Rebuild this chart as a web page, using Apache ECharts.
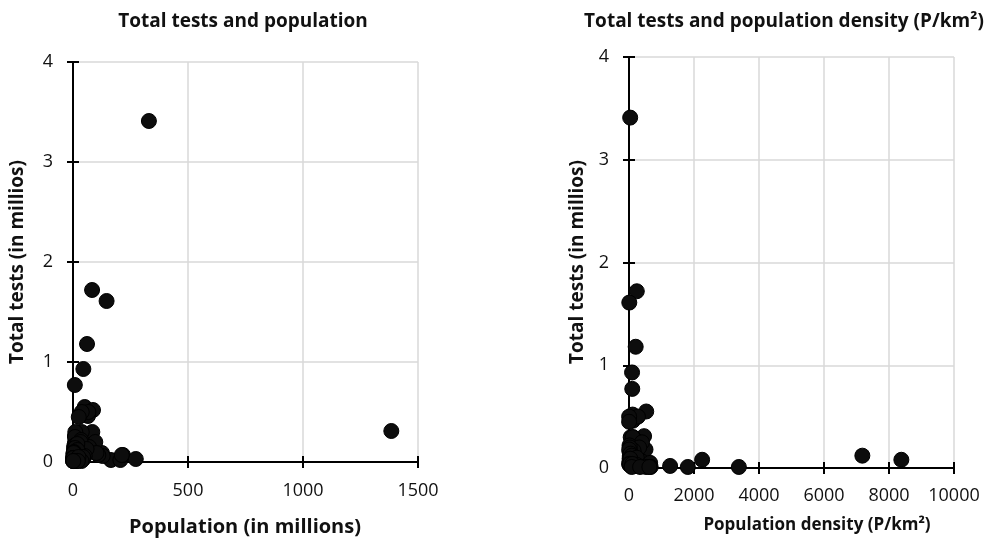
<!DOCTYPE html>
<html>
<head>
<meta charset="utf-8">
<script src="https://cdn.jsdelivr.net/npm/echarts@6/dist/echarts.min.js"></script>
<style>
html,body{margin:0;padding:0;background:#fff;}
#chart{width:995px;height:543px;}
</style>
</head>
<body>
<div id="chart"></div>
<script>
// ---- Data ----
const countries = ["United States","Germany","Russia","Italy","Spain","United Arab Emirates","India","South Korea","Turkey","Hong Kong","Singapore","Bahrain","Maldives","Malta","Bangladesh","Nigeria","Pakistan","Indonesia","Brazil","Japan","France","United Kingdom","Canada","Australia","Iran","Poland","Switzerland","Portugal","Belgium","Netherlands","Austria","Israel","Saudi Arabia","Mexico","Philippines","Vietnam","Thailand","Egypt","Malaysia","Sweden","Norway","Denmark","Ireland","Czechia","Chile","Peru","South Africa","Qatar","Kazakhstan","Belarus","Colombia","Argentina","Ecuador","Romania","Ukraine","Greece","Finland","Serbia","Kuwait","New Zealand","Lithuania","Iceland","Luxembourg","Estonia","Slovenia","Morocco","Taiwan","Lebanon","Rwanda","Sri Lanka","Mauritius"];
const populationM = [330,83,146,61,45,8,1384,51,87,7.5,5.8,1.7,0.5,0.4,165,206,217,273,212,126,65,67,38,25,84,38,8.6,10,11.5,17,9,9,35,129,110,97,70,102,32,10,5.4,5.8,5,10.7,19,33,59,2.9,18.8,9.4,51,45,17.6,19,44,10.4,5.5,8.7,4.3,4.8,2.7,0.34,0.63,1.3,2.1,37,23.8,6.8,13,21,1.3];
const densityPerKm2 = [36,240,9,206,94,100,464,530,110,7180,8380,2250,3380,1810,1265,226,287,151,25,347,119,275,4,3,52,124,219,111,383,508,109,400,16,66,368,314,137,103,99,25,15,137,72,139,26,26,49,248,7,47,46,17,71,84,75,81,18,100,240,18,43,3,242,31,103,83,650,667,525,341,626];
const testsM = [3.41,1.72,1.61,1.18,0.93,0.77,0.31,0.55,0.52,0.12,0.08,0.08,0.01,0.01,0.02,0.02,0.07,0.03,0.07,0.09,0.46,0.50,0.50,0.45,0.30,0.30,0.26,0.30,0.17,0.18,0.20,0.25,0.22,0.06,0.07,0.20,0.15,0.09,0.12,0.11,0.16,0.14,0.13,0.17,0.12,0.20,0.13,0.07,0.18,0.14,0.06,0.03,0.03,0.12,0.05,0.05,0.06,0.05,0.10,0.09,0.09,0.04,0.03,0.04,0.04,0.01,0.05,0.01,0.01,0.01,0.01];

const leftTitle = "Total tests and population";
const rightTitle = "Total tests and population density (P/km²)";
const yName = "Total tests (in millios)";
const leftXName = "Population (in millions)";
const rightXName = "Population density (P/km²)";

const FONT = "Open Sans";
const chart = echarts.init(document.getElementById('chart'), null, {renderer:'canvas'});
const plain = v => String(v);

function xAxes(gridIndex, max, interval, margin) {
  const base = {
    gridIndex, type:'value', position:'bottom', min:0, max, interval,
    axisLine:{show:true, onZero:false, lineStyle:{color:'#000', width:2}},
  };
  return [
    Object.assign({}, base, {
      axisTick:{show:true, inside:false, length:6, lineStyle:{color:'#000', width:2}},
      axisLabel:{show:true, margin, color:'#111', fontFamily:FONT, fontSize:18, formatter:plain},
      splitLine:{show:true, lineStyle:{color:'#d9d9d9', width:1.5}}
    }),
    Object.assign({}, base, {
      axisLine:{show:false},
      axisTick:{show:true, inside:true, length:6, lineStyle:{color:'#000', width:2}},
      axisLabel:{show:false}, splitLine:{show:false}
    })
  ];
}
function yAxes(gridIndex) {
  const base = {
    gridIndex, type:'value', position:'left', min:0, max:4, interval:1,
    axisLine:{show:true, onZero:false, lineStyle:{color:'#000', width:2}},
  };
  return [
    Object.assign({}, base, {
      axisTick:{show:true, inside:false, length:6, lineStyle:{color:'#000', width:2}},
      axisLabel:{show:true, margin:20, color:'#111', fontFamily:FONT, fontSize:18, formatter:plain},
      splitLine:{show:true, lineStyle:{color:'#d9d9d9', width:1.5}}
    }),
    Object.assign({}, base, {
      axisLine:{show:false},
      axisTick:{show:true, inside:true, length:6, lineStyle:{color:'#000', width:2}},
      axisLabel:{show:false}, splitLine:{show:false}
    })
  ];
}

const popData = countries.map((c,i)=>({name:c, value:[populationM[i], testsM[i]]}));
const denData = countries.map((c,i)=>({name:c, value:[densityPerKm2[i], testsM[i]]}));

const marker = {color:'#0d0d0d', borderColor:'#000', borderWidth:1, opacity:1};
const titleStyle = {fontFamily:FONT, fontWeight:'bold', fontSize:19, color:'#111'};
const font = s => 'bold ' + s + 'px "' + FONT + '"';

chart.setOption({
  animation:false,
  backgroundColor:'#fff',
  title:[
    {text:leftTitle, left:238, top:7, textAlign:'center', textStyle:titleStyle},
    {text:rightTitle, left:779, top:7, textAlign:'center', textStyle:titleStyle}
  ],
  grid:[
    {left:73, top:62, width:345, height:400},
    {left:629, top:57, width:325, height:411}
  ],
  xAxis:[].concat(xAxes(0,1500,500,20), xAxes(1,10000,2000,19)),
  yAxis:[].concat(yAxes(0), yAxes(1)),
  graphic:[
    {type:'text', x:18, y:262, rotation:Math.PI/2, style:{text:yName, x:0, y:0, textAlign:'center', textVerticalAlign:'middle', font:font(19), fill:'#111'}},
    {type:'text', x:578, y:262, rotation:Math.PI/2, style:{text:yName, x:0, y:0, textAlign:'center', textVerticalAlign:'middle', font:font(19), fill:'#111'}},
    {type:'text', x:245, y:527, style:{text:leftXName, x:0, y:0, textAlign:'center', textVerticalAlign:'middle', font:font(20), fill:'#111'}},
    {type:'text', x:817, y:525, style:{text:rightXName, x:0, y:0, textAlign:'center', textVerticalAlign:'middle', font:font(17), fill:'#111'}}
  ],
  series:[
    {type:'scatter', xAxisIndex:0, yAxisIndex:0, data:popData, symbol:'circle', symbolSize:15, clip:false, itemStyle:marker},
    {type:'scatter', xAxisIndex:2, yAxisIndex:2, data:denData, symbol:'circle', symbolSize:15, clip:false, itemStyle:marker}
  ]
});
</script>
</body>
</html>
